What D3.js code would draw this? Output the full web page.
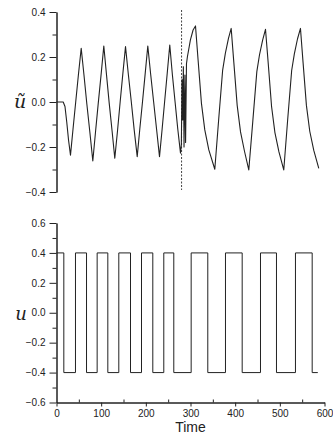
<!DOCTYPE html>
<html>
<head>
<meta charset="utf-8">
<script src="https://cdn.jsdelivr.net/npm/d3@7"></script>
<style>
  body { margin: 0; background: #fff; }
  svg { display: block; }
  .tick text { font-family: "Liberation Sans", Arial, sans-serif; font-size: 10px; fill: #222; }
  .axis path, .axis line { stroke: #222; stroke-width: 1; }
</style>
</head>
<body>
<div class="chart"></div>
<script>
"use strict";

// ũ response (time, value)
var tildeTime = [0, 15, 19, 23, 27, 31.3, 37, 43, 49, 55.3, 61.5, 68, 75, 81.3, 87.5, 93.5, 100, 105.9,
  112, 118, 124.5, 130.5, 136.5, 142.5, 148.5, 154.5, 161, 167.5, 174, 180.7, 186.5, 192.5, 198.5, 204.4,
  211, 217.5, 224, 230.6, 236.5, 242, 248, 253.6, 259.5, 265.5, 271.5, 277.6,
  279.5, 281, 282.5, 284, 285.5, 287.5, 289, 291, 293, 299.8, 305.8, 311.2,
  317, 324.5, 332, 341, 354.4, 363, 372, 378, 385, 391.1,
  397, 404.5, 412, 421, 430.5, 439.5, 448.5, 454.5, 461.5, 467.9,
  474, 481.5, 489, 498, 508.8, 517.5, 526.5, 532.5, 539.5, 546.2,
  552, 559.5, 567, 576, 587.2];
var tildeValue = [0, 0, -0.02, -0.09, -0.17, -0.236, -0.12, 0.0, 0.12, 0.239, 0.12, -0.01, -0.14, -0.262, -0.13, -0.005, 0.125, 0.249,
  0.12, -0.005, -0.13, -0.25, -0.13, 0.0, 0.125, 0.246, 0.12, 0.0, -0.125, -0.243, -0.12, 0.0, 0.125, 0.249,
  0.12, 0.0, -0.12, -0.243, -0.12, 0.0, 0.13, 0.253, 0.12, 0.0, -0.12, -0.227,
  -0.19, 0.1, -0.08, 0.157, -0.2, 0.12, -0.18, 0.17, 0.2, 0.276, 0.32, 0.338,
  0.187, -0.006, -0.124, -0.213, -0.299, -0.08, 0.142, 0.216, 0.283, 0.327,
  0.176, -0.015, -0.133, -0.22, -0.302, -0.085, 0.135, 0.21, 0.275, 0.323,
  0.172, -0.02, -0.136, -0.222, -0.302, -0.08, 0.14, 0.214, 0.28, 0.327,
  0.176, -0.015, -0.13, -0.215, -0.295];

// u control: switching times, level after each switch
var switchTime = [0, 16.4, 42.5, 67.2, 91, 114.9, 139.5, 165.7, 190.3, 215.6, 240.2, 262.6,
  301.5, 338.7, 378.3, 415.7, 456.7, 492.5, 535, 572.4, 585];
var switchLevel = [0.4, -0.4, 0.4, -0.4, 0.4, -0.4, 0.4, -0.4, 0.4, -0.4, 0.4, -0.4,
  0.4, -0.4, 0.4, -0.4, 0.4, -0.4, 0.4, -0.4, -0.4];

var markTime = 280;

var timeTicks = [0, 100, 200, 300, 400, 500, 600];
var timeMinor = [50, 150, 250, 350, 450, 550];
var topTicks = [-0.4, -0.2, 0.0, 0.2, 0.4];
var topMinor = [-0.3, -0.1, 0.1, 0.3];
var botTicks = [-0.6, -0.4, -0.2, 0.0, 0.2, 0.4, 0.6];
var botMinor = [-0.5, -0.3, -0.1, 0.1, 0.3, 0.5];

var W = 333, H = 434;
var svg = d3.select(".chart").append("svg").attr("width", W).attr("height", H);

var x = d3.scaleLinear().domain([0, 600]).range([56.5, 324.5]);
var yTop = d3.scaleLinear().domain([-0.4, 0.4]).range([192, 12]);
var yBot = d3.scaleLinear().domain([-0.6, 0.6]).range([402.5, 223]);
var fmt = d3.format(".1f");

//top axis
svg.append("g").attr("class", "axis")
  .attr("transform", "translate(" + x(0) + ",0)")
  .call(d3.axisLeft(yTop).tickValues(topTicks).tickFormat(fmt).tickSize(7).tickSizeOuter(0).tickPadding(4));
svg.append("g").attr("class", "axis")
  .attr("transform", "translate(" + x(0) + ",0)")
  .call(d3.axisLeft(yTop).tickValues(topMinor).tickFormat("").tickSize(4).tickSizeOuter(0));

//bottom axes
svg.append("g").attr("class", "axis")
  .attr("transform", "translate(" + x(0) + ",0)")
  .call(d3.axisLeft(yBot).tickValues(botTicks).tickFormat(fmt).tickSize(7).tickSizeOuter(0).tickPadding(4));
svg.append("g").attr("class", "axis")
  .attr("transform", "translate(" + x(0) + ",0)")
  .call(d3.axisLeft(yBot).tickValues(botMinor).tickFormat("").tickSize(4).tickSizeOuter(0));
svg.append("g").attr("class", "axis")
  .attr("transform", "translate(0," + yBot(-0.6) + ")")
  .call(d3.axisBottom(x).tickValues(timeTicks).tickFormat(d3.format("d")).tickSize(4).tickSizeOuter(0).tickPadding(3));
svg.append("g").attr("class", "axis")
  .attr("transform", "translate(0," + yBot(-0.6) + ")")
  .call(d3.axisBottom(x).tickValues(timeMinor).tickFormat("").tickSize(-3).tickSizeOuter(0));

// axis titles
svg.append("text")
  .attr("x", 20).attr("y", 108)
  .style("font-family", "'DejaVu Serif', 'Liberation Serif', serif")
  .style("font-style", "italic").style("font-size", "19px")
  .style("text-anchor", "middle").style("fill", "#222")
  .text("\u0169");
svg.append("text")
  .attr("x", 21).attr("y", 320)
  .style("font-family", "'DejaVu Serif', 'Liberation Serif', serif")
  .style("font-style", "italic").style("font-size", "18px")
  .style("text-anchor", "middle").style("fill", "#222")
  .text("u");
svg.append("text")
  .attr("x", x(300)).attr("y", 432)
  .style("font-family", "'Liberation Sans', Arial, sans-serif")
  .style("font-size", "14px")
  .style("text-anchor", "middle").style("fill", "#222")
  .text("Time");

// dotted marker
svg.append("line")
  .attr("x1", x(markTime)).attr("x2", x(markTime))
  .attr("y1", 10).attr("y2", 190)
  .style("stroke", "#444").style("stroke-width", 1)
  .style("stroke-dasharray", "2,1.5");

// ũ curve
var tildeData = tildeTime.map(function(t, i){ return [t, tildeValue[i]]; });
svg.append("path")
  .datum(tildeData)
  .attr("d", d3.line().x(function(d){ return x(d[0]); }).y(function(d){ return yTop(d[1]); }))
  .style("fill", "none").style("stroke", "#222").style("stroke-width", 1.1)
  .style("stroke-linejoin", "round");

// u square wave
var uData = switchTime.map(function(t, i){ return [t, switchLevel[i]]; });
svg.append("path")
  .datum(uData)
  .attr("d", d3.line().curve(d3.curveStepAfter)
    .x(function(d){ return x(d[0]); }).y(function(d){ return yBot(d[1]); }))
  .style("fill", "none").style("stroke", "#222").style("stroke-width", 1);
</script>
</body>
</html>
